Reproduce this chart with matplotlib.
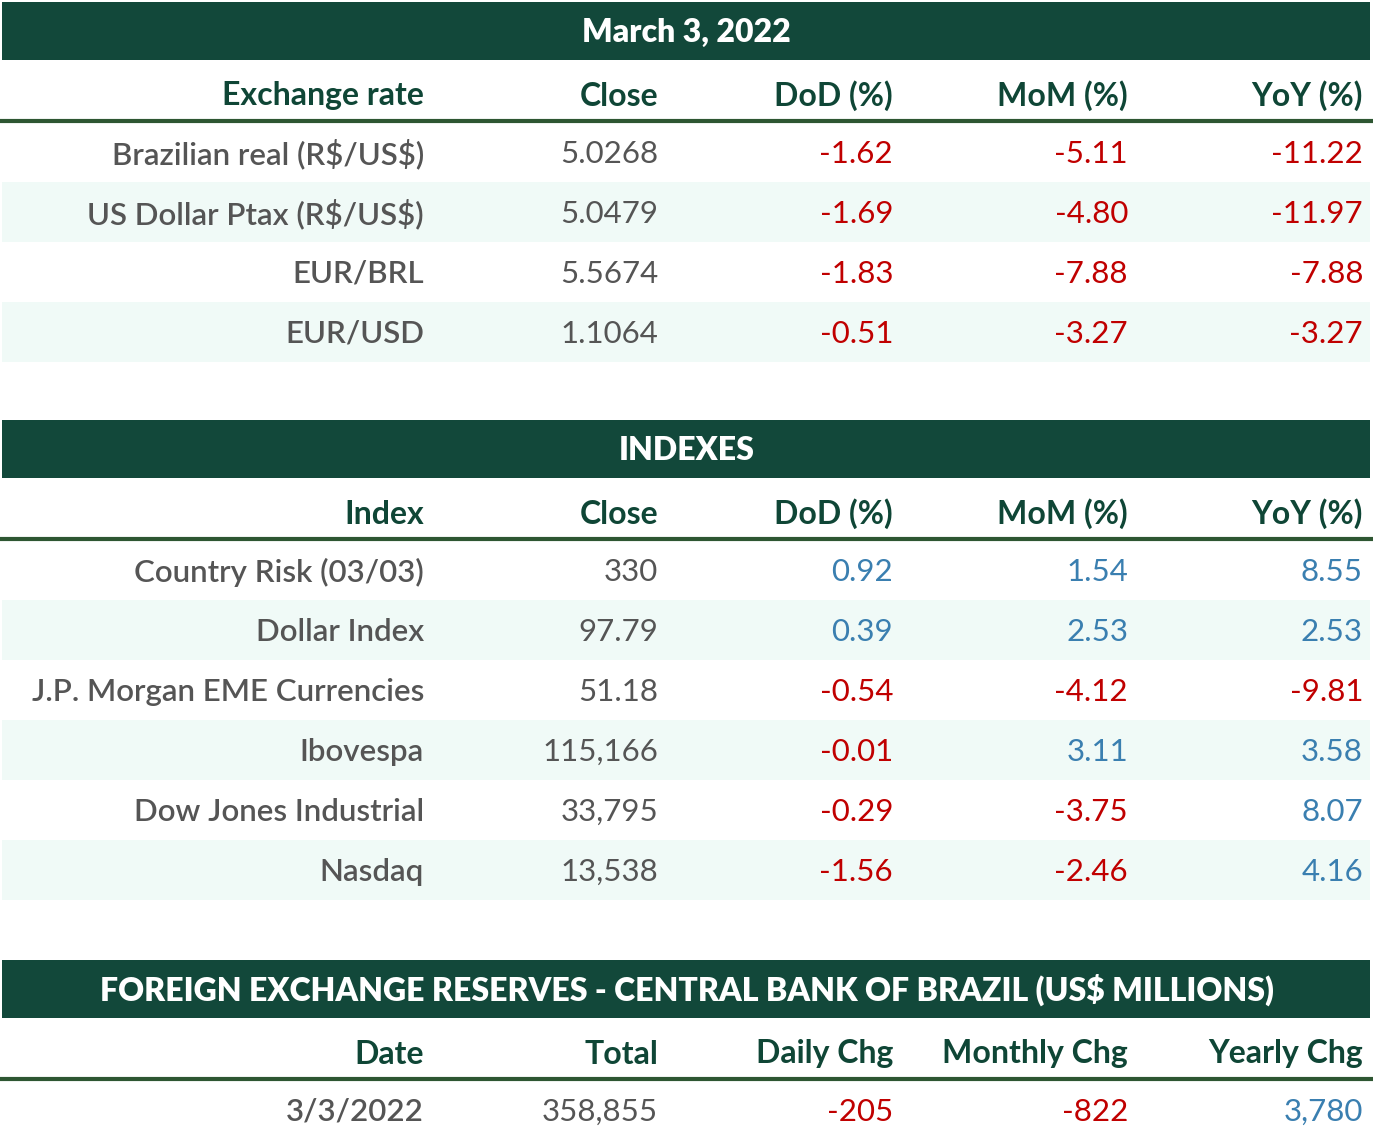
import matplotlib.pyplot as plt
from matplotlib.patches import Rectangle

# table contents
fx_title = "March 3, 2022"
fx_header = ["Exchange rate", "Close", "DoD (%)", "MoM (%)", "YoY (%)"]
fx_names = ["Brazilian real (R$/US$)", "US Dollar Ptax (R$/US$)", "EUR/BRL", "EUR/USD"]
fx_close = ["5.0268", "5.0479", "5.5674", "1.1064"]
fx_dod = [-1.62, -1.69, -1.83, -0.51]
fx_mom = [-5.11, -4.80, -7.88, -3.27]
fx_yoy = [-11.22, -11.97, -7.88, -3.27]

idx_title = "INDEXES"
idx_header = ["Index", "Close", "DoD (%)", "MoM (%)", "YoY (%)"]
idx_names = ["Country Risk (03/03)", "Dollar Index", "J.P. Morgan EME Currencies",
             "Ibovespa", "Dow Jones Industrial", "Nasdaq"]
idx_close = ["330", "97.79", "51.18", "115,166", "33,795", "13,538"]
idx_dod = [0.92, 0.39, -0.54, -0.01, -0.29, -1.56]
idx_mom = [1.54, 2.53, -4.12, 3.11, -3.75, -2.46]
idx_yoy = [8.55, 2.53, -9.81, 3.58, 8.07, 4.16]

res_title = "FOREIGN EXCHANGE RESERVES - CENTRAL BANK OF BRAZIL (US$ MILLIONS)"
res_header = ["Date", "Total", "Daily Chg", "Monthly Chg", "Yearly Chg"]
res_date = ["3/3/2022"]
res_total = ["358,855"]
res_daily = [-205]
res_monthly = [-822]
res_yearly = [3780]

W, H = 1373, 1142
DARK = "#12483a"
HEADTXT = "#0f4636"
LINE = "#2e5632"
GREY = "#555555"
RED = "#c00000"
BLUE = "#3a7fb0"
SHADE = "#f0faf7"
col_right = [424, 658, 893, 1128, 1363]
FONT = "Lato"
FS = 22.5
FS_HEAD = 23

fig = plt.figure(figsize=(W / 100, H / 100), dpi=100)
ax = fig.add_axes([0, 0, 1, 1])
ax.set_xlim(0, W)
ax.set_ylim(H, 0)
ax.axis("off")


def colour(v):
    return RED if v < 0 else BLUE


def block(top, title, header, rows):
    # title bar
    ax.add_patch(Rectangle((2, top), 1368, 58, color=DARK, lw=0))
    ax.text(W / 2, top + 30, title, color="white", fontsize=FS_HEAD, fontweight="heavy",
            family=FONT, ha="center", va="center", parse_math=False)
    hy = top + 94
    for x, h in zip(col_right, header):
        ax.text(x, hy, h, color=HEADTXT, fontsize=FS_HEAD, fontweight="bold",
                family=FONT, ha="right", va="center", parse_math=False)
    ax.plot([0, W], [top + 119, top + 119], color=LINE, lw=3, solid_capstyle="butt")
    y0 = top + 120
    for i, row in enumerate(rows):
        if i % 2 == 1:
            ax.add_patch(Rectangle((2, y0 + i * 60), 1368, 60, color=SHADE, lw=0))
        cy = y0 + i * 60 + 32
        for j, (txt, c) in enumerate(row):
            ax.text(col_right[j], cy, txt, color=c, fontsize=FS,
                    fontweight="semibold" if j == 0 else "normal",
                    family=FONT, ha="right", va="center", parse_math=False)


fx_rows = []
for n, c, d, m, y in zip(fx_names, fx_close, fx_dod, fx_mom, fx_yoy):
    fx_rows.append([(n, GREY), (c, GREY), (f"{d:.2f}", colour(d)),
                    (f"{m:.2f}", colour(m)), (f"{y:.2f}", colour(y))])
block(2, fx_title, fx_header, fx_rows)

idx_rows = []
for n, c, d, m, y in zip(idx_names, idx_close, idx_dod, idx_mom, idx_yoy):
    idx_rows.append([(n, GREY), (c, GREY), (f"{d:.2f}", colour(d)),
                     (f"{m:.2f}", colour(m)), (f"{y:.2f}", colour(y))])
block(420, idx_title, idx_header, idx_rows)

res_rows = []
for dt, t, d, m, y in zip(res_date, res_total, res_daily, res_monthly, res_yearly):
    res_rows.append([(dt, GREY), (t, GREY), (f"{d:,}", colour(d)),
                     (f"{m:,}", colour(m)), (f"{y:,}", colour(y))])
block(960, res_title, res_header, res_rows)

fig.savefig("out.png", dpi=100)
